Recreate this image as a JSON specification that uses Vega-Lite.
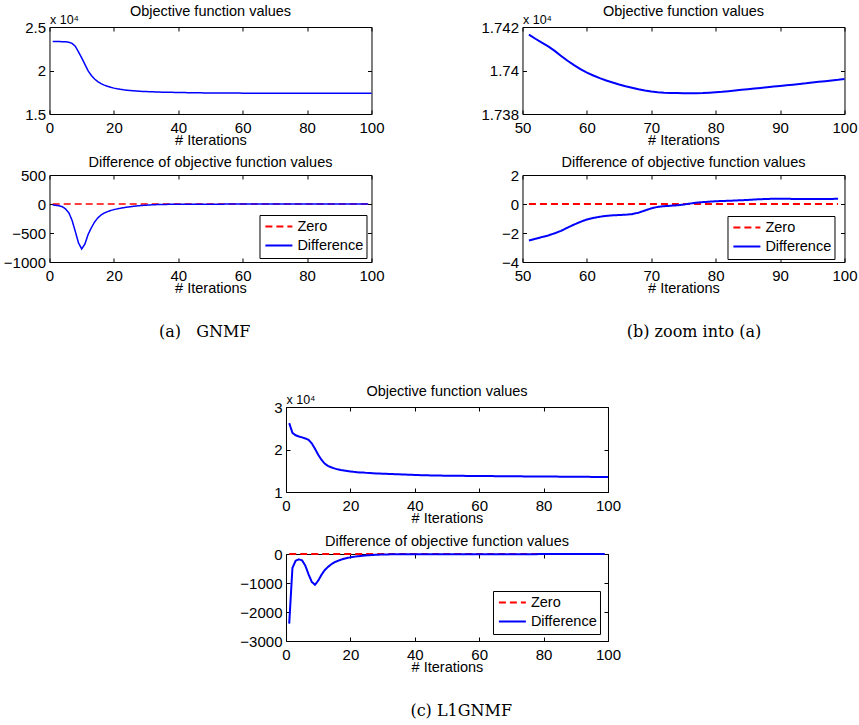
{
"$schema": "https://vega.github.io/schema/vega-lite/v6.json",
"background": "white",
"padding": {"left": 2, "top": 3, "right": 2, "bottom": 2},
"datasets": {
"aObj": [{"it":1,"v":23340},{"it":2,"v":23335},{"it":3,"v":23328},{"it":4,"v":23318},{"it":5,"v":23295},{"it":6,"v":23250},{"it":7,"v":23120},{"it":8,"v":22800},{"it":9,"v":22150},{"it":10,"v":21450},{"it":11,"v":20700},{"it":12,"v":19950},{"it":13,"v":19420},{"it":14,"v":19020},{"it":15,"v":18720},{"it":16,"v":18500},{"it":17,"v":18320},{"it":18,"v":18190},{"it":19,"v":18070},{"it":20,"v":17975},{"it":21,"v":17900},{"it":22,"v":17835},{"it":23,"v":17780},{"it":24,"v":17735},{"it":25,"v":17697},{"it":26,"v":17665},{"it":27,"v":17637},{"it":28,"v":17613},{"it":29,"v":17592},{"it":30,"v":17574},{"it":31,"v":17560},{"it":32,"v":17547},{"it":33,"v":17535},{"it":34,"v":17524},{"it":35,"v":17513},{"it":36,"v":17503},{"it":37,"v":17494},{"it":38,"v":17486},{"it":39,"v":17478},{"it":40,"v":17471},{"it":41,"v":17465},{"it":42,"v":17459},{"it":43,"v":17453},{"it":44,"v":17448},{"it":45,"v":17443},{"it":46,"v":17438},{"it":47,"v":17433},{"it":48,"v":17428},{"it":49,"v":17424},{"it":50,"v":17420},{"it":51,"v":17416.5},{"it":52,"v":17414.6},{"it":53,"v":17412.8},{"it":54,"v":17411.1},{"it":55,"v":17409.0},{"it":56,"v":17406.7},{"it":57,"v":17404.5},{"it":58,"v":17402.5},{"it":59,"v":17400.6},{"it":60,"v":17399.0},{"it":61,"v":17397.7},{"it":62,"v":17396.5},{"it":63,"v":17395.4},{"it":64,"v":17394.5},{"it":65,"v":17393.6},{"it":66,"v":17392.8},{"it":67,"v":17392.1},{"it":68,"v":17391.4},{"it":69,"v":17390.8},{"it":70,"v":17390.3},{"it":71,"v":17390.0},{"it":72,"v":17389.8},{"it":73,"v":17389.7},{"it":74,"v":17389.6},{"it":75,"v":17389.5},{"it":76,"v":17389.5},{"it":77,"v":17389.5},{"it":78,"v":17389.6},{"it":79,"v":17389.8},{"it":80,"v":17390.0},{"it":81,"v":17390.2},{"it":82,"v":17390.5},{"it":83,"v":17390.8},{"it":84,"v":17391.1},{"it":85,"v":17391.4},{"it":86,"v":17391.7},{"it":87,"v":17392.0},{"it":88,"v":17392.3},{"it":89,"v":17392.6},{"it":90,"v":17392.9},{"it":91,"v":17393.2},{"it":92,"v":17393.5},{"it":93,"v":17393.8},{"it":94,"v":17394.1},{"it":95,"v":17394.5},{"it":96,"v":17394.8},{"it":97,"v":17395.1},{"it":98,"v":17395.4},{"it":99,"v":17395.7},{"it":100,"v":17396.1}],
"aDiff": [{"it":1,"s":"Zero","v":0},{"it":51,"s":"Zero","v":0},{"it":99,"s":"Zero","v":0},
{"it":1,"s":"Difference","v":-17},{"it":2,"s":"Difference","v":-22},{"it":3,"s":"Difference","v":-32},{"it":4,"s":"Difference","v":-48},{"it":5,"s":"Difference","v":-85},{"it":6,"s":"Difference","v":-150},{"it":7,"s":"Difference","v":-280},{"it":8,"s":"Difference","v":-470},{"it":9,"s":"Difference","v":-670},{"it":10,"s":"Difference","v":-775},{"it":11,"s":"Difference","v":-690},{"it":12,"s":"Difference","v":-524},{"it":13,"s":"Difference","v":-410},{"it":14,"s":"Difference","v":-310},{"it":15,"s":"Difference","v":-240},{"it":16,"s":"Difference","v":-190},{"it":17,"s":"Difference","v":-155},{"it":18,"s":"Difference","v":-132},{"it":19,"s":"Difference","v":-112},{"it":20,"s":"Difference","v":-97},{"it":21,"s":"Difference","v":-84},{"it":22,"s":"Difference","v":-74},{"it":23,"s":"Difference","v":-64},{"it":24,"s":"Difference","v":-55},{"it":25,"s":"Difference","v":-47},{"it":26,"s":"Difference","v":-40},{"it":27,"s":"Difference","v":-34},{"it":28,"s":"Difference","v":-29},{"it":29,"s":"Difference","v":-24},{"it":30,"s":"Difference","v":-20},{"it":31,"s":"Difference","v":-17},{"it":32,"s":"Difference","v":-14},{"it":33,"s":"Difference","v":-11},{"it":34,"s":"Difference","v":-9},{"it":35,"s":"Difference","v":-8},{"it":36,"s":"Difference","v":-7},{"it":37,"s":"Difference","v":-6},{"it":38,"s":"Difference","v":-5},{"it":39,"s":"Difference","v":-4.5},{"it":40,"s":"Difference","v":-4},{"it":41,"s":"Difference","v":-3.6},{"it":42,"s":"Difference","v":-3.3},{"it":43,"s":"Difference","v":-3.1},{"it":44,"s":"Difference","v":-2.9},{"it":45,"s":"Difference","v":-2.8},{"it":46,"s":"Difference","v":-2.7},{"it":47,"s":"Difference","v":-2.65},{"it":48,"s":"Difference","v":-2.6},{"it":49,"s":"Difference","v":-2.58},{"it":50,"s":"Difference","v":-2.55},{"it":51,"s":"Difference","v":-2.52},{"it":52,"s":"Difference","v":-2.4},{"it":53,"s":"Difference","v":-2.28},{"it":54,"s":"Difference","v":-2.17},{"it":55,"s":"Difference","v":-2.02},{"it":56,"s":"Difference","v":-1.85},{"it":57,"s":"Difference","v":-1.63},{"it":58,"s":"Difference","v":-1.42},{"it":59,"s":"Difference","v":-1.23},{"it":60,"s":"Difference","v":-1.07},{"it":61,"s":"Difference","v":-0.96},{"it":62,"s":"Difference","v":-0.88},{"it":63,"s":"Difference","v":-0.82},{"it":64,"s":"Difference","v":-0.78},{"it":65,"s":"Difference","v":-0.76},{"it":66,"s":"Difference","v":-0.74},{"it":67,"s":"Difference","v":-0.7},{"it":68,"s":"Difference","v":-0.6},{"it":69,"s":"Difference","v":-0.45},{"it":70,"s":"Difference","v":-0.3},{"it":71,"s":"Difference","v":-0.2},{"it":72,"s":"Difference","v":-0.15},{"it":73,"s":"Difference","v":-0.12},{"it":74,"s":"Difference","v":-0.09},{"it":75,"s":"Difference","v":-0.04},{"it":76,"s":"Difference","v":0.03},{"it":77,"s":"Difference","v":0.09},{"it":78,"s":"Difference","v":0.13},{"it":79,"s":"Difference","v":0.16},{"it":80,"s":"Difference","v":0.19},{"it":81,"s":"Difference","v":0.21},{"it":82,"s":"Difference","v":0.22},{"it":83,"s":"Difference","v":0.24},{"it":84,"s":"Difference","v":0.26},{"it":85,"s":"Difference","v":0.28},{"it":86,"s":"Difference","v":0.31},{"it":87,"s":"Difference","v":0.33},{"it":88,"s":"Difference","v":0.35},{"it":89,"s":"Difference","v":0.36},{"it":90,"s":"Difference","v":0.36},{"it":91,"s":"Difference","v":0.36},{"it":92,"s":"Difference","v":0.35},{"it":93,"s":"Difference","v":0.34},{"it":94,"s":"Difference","v":0.34},{"it":95,"s":"Difference","v":0.34},{"it":96,"s":"Difference","v":0.34},{"it":97,"s":"Difference","v":0.35},{"it":98,"s":"Difference","v":0.35},{"it":99,"s":"Difference","v":0.36}],
"cObj": [{"it":1,"v":26200},{"it":2,"v":23900},{"it":3,"v":23350},{"it":4,"v":23050},{"it":5,"v":22850},{"it":6,"v":22600},{"it":7,"v":22250},{"it":8,"v":21450},{"it":9,"v":20150},{"it":10,"v":18750},{"it":11,"v":17600},{"it":12,"v":16700},{"it":13,"v":16150},{"it":14,"v":15830},{"it":15,"v":15550},{"it":16,"v":15330},{"it":17,"v":15160},{"it":18,"v":15040},{"it":19,"v":14930},{"it":20,"v":14830},{"it":21,"v":14740},{"it":22,"v":14670},{"it":23,"v":14610},{"it":24,"v":14560},{"it":25,"v":14500},{"it":26,"v":14455},{"it":27,"v":14410},{"it":28,"v":14370},{"it":29,"v":14335},{"it":30,"v":14300},{"it":31,"v":14270},{"it":32,"v":14240},{"it":33,"v":14210},{"it":34,"v":14180},{"it":35,"v":14150},{"it":36,"v":14120},{"it":37,"v":14090},{"it":38,"v":14060},{"it":39,"v":14030},{"it":40,"v":14000},{"it":41,"v":13978},{"it":42,"v":13957},{"it":43,"v":13937},{"it":44,"v":13918},{"it":45,"v":13900},{"it":46,"v":13886},{"it":47,"v":13873},{"it":48,"v":13861},{"it":49,"v":13850},{"it":50,"v":13840},{"it":51,"v":13831},{"it":52,"v":13822},{"it":53,"v":13814},{"it":54,"v":13806},{"it":55,"v":13798},{"it":56,"v":13790},{"it":57,"v":13782},{"it":58,"v":13775},{"it":59,"v":13767},{"it":60,"v":13760},{"it":61,"v":13754},{"it":62,"v":13748},{"it":63,"v":13742},{"it":64,"v":13736},{"it":65,"v":13730},{"it":66,"v":13724},{"it":67,"v":13718},{"it":68,"v":13712},{"it":69,"v":13706},{"it":70,"v":13700},{"it":71,"v":13694},{"it":72,"v":13688},{"it":73,"v":13682},{"it":74,"v":13676},{"it":75,"v":13670},{"it":76,"v":13664},{"it":77,"v":13658},{"it":78,"v":13652},{"it":79,"v":13646},{"it":80,"v":13640},{"it":81,"v":13634},{"it":82,"v":13629},{"it":83,"v":13623},{"it":84,"v":13618},{"it":85,"v":13612},{"it":86,"v":13607},{"it":87,"v":13601},{"it":88,"v":13596},{"it":89,"v":13590},{"it":90,"v":13585},{"it":91,"v":13579},{"it":92,"v":13574},{"it":93,"v":13568},{"it":94,"v":13563},{"it":95,"v":13557},{"it":96,"v":13552},{"it":97,"v":13546},{"it":98,"v":13541},{"it":99,"v":13535},{"it":100,"v":13530}],
"cDiff": [{"it":1,"s":"Zero","v":0},{"it":99,"s":"Zero","v":0},
{"it":1,"s":"Difference","v":-2400},{"it":2,"s":"Difference","v":-480},{"it":3,"s":"Difference","v":-230},{"it":4,"s":"Difference","v":-185},{"it":5,"s":"Difference","v":-220},{"it":6,"s":"Difference","v":-400},{"it":7,"s":"Difference","v":-700},{"it":8,"s":"Difference","v":-960},{"it":9,"s":"Difference","v":-1060},{"it":10,"s":"Difference","v":-920},{"it":11,"s":"Difference","v":-720},{"it":12,"s":"Difference","v":-560},{"it":13,"s":"Difference","v":-450},{"it":14,"s":"Difference","v":-360},{"it":15,"s":"Difference","v":-290},{"it":16,"s":"Difference","v":-240},{"it":17,"s":"Difference","v":-200},{"it":18,"s":"Difference","v":-165},{"it":19,"s":"Difference","v":-138},{"it":20,"s":"Difference","v":-115},{"it":21,"s":"Difference","v":-97},{"it":22,"s":"Difference","v":-82},{"it":23,"s":"Difference","v":-69},{"it":24,"s":"Difference","v":-58},{"it":25,"s":"Difference","v":-48},{"it":26,"s":"Difference","v":-40},{"it":27,"s":"Difference","v":-33},{"it":28,"s":"Difference","v":-27},{"it":29,"s":"Difference","v":-22},{"it":30,"s":"Difference","v":-18},{"it":31,"s":"Difference","v":-15},{"it":32,"s":"Difference","v":-13},{"it":33,"s":"Difference","v":-11},{"it":34,"s":"Difference","v":-10},{"it":35,"s":"Difference","v":-9},{"it":36,"s":"Difference","v":-8},{"it":37,"s":"Difference","v":-7.5},{"it":38,"s":"Difference","v":-7},{"it":39,"s":"Difference","v":-6.6},{"it":40,"s":"Difference","v":-6.3},{"it":41,"s":"Difference","v":-6.1},{"it":42,"s":"Difference","v":-5.9},{"it":43,"s":"Difference","v":-5.8},{"it":44,"s":"Difference","v":-5.7},{"it":45,"s":"Difference","v":-5.6},{"it":46,"s":"Difference","v":-5.5},{"it":47,"s":"Difference","v":-5.4},{"it":48,"s":"Difference","v":-5.4},{"it":49,"s":"Difference","v":-5.3},{"it":50,"s":"Difference","v":-5.3},{"it":51,"s":"Difference","v":-5.2},{"it":52,"s":"Difference","v":-5.2},{"it":53,"s":"Difference","v":-5.1},{"it":54,"s":"Difference","v":-5.1},{"it":55,"s":"Difference","v":-5.0},{"it":56,"s":"Difference","v":-5.0},{"it":57,"s":"Difference","v":-5.0},{"it":58,"s":"Difference","v":-4.9},{"it":59,"s":"Difference","v":-4.9},{"it":60,"s":"Difference","v":-4.9},{"it":61,"s":"Difference","v":-4.8},{"it":62,"s":"Difference","v":-4.8},{"it":63,"s":"Difference","v":-4.8},{"it":64,"s":"Difference","v":-4.7},{"it":65,"s":"Difference","v":-4.7},{"it":66,"s":"Difference","v":-4.7},{"it":67,"s":"Difference","v":-4.6},{"it":68,"s":"Difference","v":-4.6},{"it":69,"s":"Difference","v":-4.6},{"it":70,"s":"Difference","v":-4.5},{"it":71,"s":"Difference","v":-4.5},{"it":72,"s":"Difference","v":-4.5},{"it":73,"s":"Difference","v":-4.4},{"it":74,"s":"Difference","v":-4.4},{"it":75,"s":"Difference","v":-4.4},{"it":76,"s":"Difference","v":-4.3},{"it":77,"s":"Difference","v":-4.3},{"it":78,"s":"Difference","v":-4.3},{"it":79,"s":"Difference","v":-4.2},{"it":80,"s":"Difference","v":-4.2},{"it":81,"s":"Difference","v":-4.2},{"it":82,"s":"Difference","v":-4.1},{"it":83,"s":"Difference","v":-4.1},{"it":84,"s":"Difference","v":-4.1},{"it":85,"s":"Difference","v":-4.0},{"it":86,"s":"Difference","v":-4.0},{"it":87,"s":"Difference","v":-4.0},{"it":88,"s":"Difference","v":-3.9},{"it":89,"s":"Difference","v":-3.9},{"it":90,"s":"Difference","v":-3.9},{"it":91,"s":"Difference","v":-3.8},{"it":92,"s":"Difference","v":-3.8},{"it":93,"s":"Difference","v":-3.8},{"it":94,"s":"Difference","v":-3.7},{"it":95,"s":"Difference","v":-3.7},{"it":96,"s":"Difference","v":-3.7},{"it":97,"s":"Difference","v":-3.6},{"it":98,"s":"Difference","v":-3.6},{"it":99,"s":"Difference","v":-3.6}]
},
"vconcat": [
{
"hconcat": [
{
"vconcat": [
{
"width": 322, "height": 87,
"title": {"text": "Objective function values", "frame": "group", "offset": -6},
"data": {"name": "aObj"},
"layer": [
{"mark": {"type": "line", "color": "#0000ff", "strokeWidth": 1.5},
"encoding": {
"x": {"field": "it", "type": "quantitative", "scale": {"domain": [0, 100], "nice": false, "zero": false}, "axis": {"values": [0,20,40,60,80,100], "format": "d", "labelFlush": false, "title": "# Iterations"}},
"y": {"field": "v", "type": "quantitative", "scale": {"domain": [15000, 25000], "nice": false, "zero": false}, "axis": {"values": [15000,20000,25000], "labelExpr": "format(datum.value/10000, '~g')", "title": "x 10⁴", "titleAngle": 0, "titleX": 0, "titleY": -4, "titleAlign": "left", "titleBaseline": "alphabetic", "titleFontSize": 12.5}}
}},
{"mark": {"type": "line", "opacity": 0},
"encoding": {
"x": {"field": "it", "type": "quantitative", "axis": {"orient": "top", "values": [0,20,40,60,80,100], "labels": false, "title": null}},
"y": {"field": "v", "type": "quantitative", "axis": {"orient": "right", "values": [15000,20000,25000], "labels": false, "title": null}}
}}
],
"resolve": {"axis": {"x": "independent", "y": "independent"}}
},
{
"width": 322, "height": 87,
"title": {"text": "Difference of objective function values", "frame": "group", "offset": -2},
"data": {"name": "aDiff"},
"layer": [
{"mark": {"type": "line", "strokeWidth": 1.5},
"encoding": {
"x": {"field": "it", "type": "quantitative", "scale": {"domain": [0, 100], "nice": false, "zero": false}, "axis": {"values": [0,20,40,60,80,100], "format": "d", "labelFlush": false, "title": "# Iterations"}},
"y": {"field": "v", "type": "quantitative", "scale": {"domain": [-1000, 500], "nice": false, "zero": false}, "axis": {"values": [-1000,-500,0,500], "format": "d", "title": null}},
"color": {"field": "s", "type": "nominal", "scale": {"domain": ["Zero","Difference"], "range": ["#ff0000","#0000ff"]}, "legend": {"orient": "none", "legendX": 210, "legendY": 40, "title": null}},
"strokeDash": {"field": "s", "type": "nominal", "scale": {"domain": ["Zero","Difference"], "range": [[7,4],[1,0]]}, "legend": {"orient": "none", "legendX": 210, "legendY": 40, "title": null}}
}},
{"mark": {"type": "line", "opacity": 0},
"encoding": {
"x": {"field": "it", "type": "quantitative", "axis": {"orient": "top", "values": [0,20,40,60,80,100], "labels": false, "title": null}},
"y": {"field": "v", "type": "quantitative", "axis": {"orient": "right", "values": [-1000,-500,0,500], "labels": false, "title": null}}
}}
],
"resolve": {"axis": {"x": "independent", "y": "independent"}}
}
],
"spacing": 61,
"bounds": "flush",
"title": {"text": "(a)\u00a0\u00a0\u00a0GNMF", "orient": "bottom", "anchor": "middle", "font": "DejaVu Serif", "fontSize": 16, "offset": 29, "dx": 11},
"resolve": {"scale": {"color": "independent", "strokeDash": "independent"}, "legend": {"color": "independent", "strokeDash": "independent"}}
},
{
"vconcat": [
{
"width": 322, "height": 87,
"title": {"text": "Objective function values", "frame": "group", "offset": -6},
"data": {"name": "aObj"},
"transform": [{"filter": "datum.it >= 51"}],
"layer": [
{"mark": {"type": "line", "color": "#0000ff", "strokeWidth": 2},
"encoding": {
"x": {"field": "it", "type": "quantitative", "scale": {"domain": [50, 100], "nice": false, "zero": false}, "axis": {"values": [50,60,70,80,90,100], "format": "d", "labelFlush": false, "title": "# Iterations"}},
"y": {"field": "v", "type": "quantitative", "scale": {"domain": [17380, 17420], "nice": false, "zero": false}, "axis": {"values": [17380,17400,17420], "labelExpr": "format(datum.value/10000, '~g')", "title": "x 10⁴", "titleAngle": 0, "titleX": 0, "titleY": -4, "titleAlign": "left", "titleBaseline": "alphabetic", "titleFontSize": 12.5}}
}},
{"mark": {"type": "line", "opacity": 0},
"encoding": {
"x": {"field": "it", "type": "quantitative", "axis": {"orient": "top", "values": [50,60,70,80,90,100], "labels": false, "title": null}},
"y": {"field": "v", "type": "quantitative", "axis": {"orient": "right", "values": [17380,17400,17420], "labels": false, "title": null}}
}}
],
"resolve": {"axis": {"x": "independent", "y": "independent"}}
},
{
"width": 322, "height": 87,
"title": {"text": "Difference of objective function values", "frame": "group", "offset": -2},
"data": {"name": "aDiff"},
"transform": [{"filter": "datum.it >= 51"}],
"layer": [
{"mark": {"type": "line", "strokeWidth": 2},
"encoding": {
"x": {"field": "it", "type": "quantitative", "scale": {"domain": [50, 100], "nice": false, "zero": false}, "axis": {"values": [50,60,70,80,90,100], "format": "d", "labelFlush": false, "title": "# Iterations"}},
"y": {"field": "v", "type": "quantitative", "scale": {"domain": [-4, 2], "nice": false, "zero": false}, "axis": {"values": [-4,-2,0,2], "format": "d", "title": null}},
"color": {"field": "s", "type": "nominal", "scale": {"domain": ["Zero","Difference"], "range": ["#ff0000","#0000ff"]}, "legend": {"orient": "none", "legendX": 205, "legendY": 41, "title": null}},
"strokeDash": {"field": "s", "type": "nominal", "scale": {"domain": ["Zero","Difference"], "range": [[7,4],[1,0]]}, "legend": {"orient": "none", "legendX": 205, "legendY": 41, "title": null}}
}},
{"mark": {"type": "line", "opacity": 0},
"encoding": {
"x": {"field": "it", "type": "quantitative", "axis": {"orient": "top", "values": [50,60,70,80,90,100], "labels": false, "title": null}},
"y": {"field": "v", "type": "quantitative", "axis": {"orient": "right", "values": [-4,-2,0,2], "labels": false, "title": null}}
}}
],
"resolve": {"axis": {"x": "independent", "y": "independent"}}
}
],
"spacing": 61,
"bounds": "flush",
"title": {"text": "(b) zoom into (a)", "orient": "bottom", "anchor": "middle", "font": "DejaVu Serif", "fontSize": 16, "offset": 29, "dx": 25},
"resolve": {"scale": {"color": "independent", "strokeDash": "independent"}, "legend": {"color": "independent", "strokeDash": "independent"}}
}
],
"spacing": 94,
"resolve": {"scale": {"color": "independent", "strokeDash": "independent"}, "legend": {"color": "independent", "strokeDash": "independent"}}
},
{
"vconcat": [
{
"width": 322, "height": 85,
"title": {"text": "Objective function values", "frame": "group", "offset": -6},
"data": {"name": "cObj"},
"layer": [
{"mark": {"type": "line", "color": "#0000ff", "strokeWidth": 2},
"encoding": {
"x": {"field": "it", "type": "quantitative", "scale": {"domain": [0, 100], "nice": false, "zero": false}, "axis": {"values": [0,20,40,60,80,100], "format": "d", "labelFlush": false, "title": "# Iterations"}},
"y": {"field": "v", "type": "quantitative", "scale": {"domain": [10000, 30000], "nice": false, "zero": false}, "axis": {"values": [10000,20000,30000], "labelExpr": "format(datum.value/10000, '~g')", "title": "x 10⁴", "titleAngle": 0, "titleX": 0, "titleY": -4, "titleAlign": "left", "titleBaseline": "alphabetic", "titleFontSize": 12.5}}
}},
{"mark": {"type": "line", "opacity": 0},
"encoding": {
"x": {"field": "it", "type": "quantitative", "axis": {"orient": "top", "values": [0,20,40,60,80,100], "labels": false, "title": null}},
"y": {"field": "v", "type": "quantitative", "axis": {"orient": "right", "values": [10000,20000,30000], "labels": false, "title": null}}
}}
],
"resolve": {"axis": {"x": "independent", "y": "independent"}}
},
{
"width": 322, "height": 87,
"title": {"text": "Difference of objective function values", "frame": "group", "offset": -2},
"data": {"name": "cDiff"},
"layer": [
{"mark": {"type": "line", "strokeWidth": 2},
"encoding": {
"x": {"field": "it", "type": "quantitative", "scale": {"domain": [0, 100], "nice": false, "zero": false}, "axis": {"values": [0,20,40,60,80,100], "format": "d", "labelFlush": false, "title": "# Iterations"}},
"y": {"field": "v", "type": "quantitative", "scale": {"domain": [-3000, 0], "nice": false, "zero": false}, "axis": {"values": [-3000,-2000,-1000,0], "format": "d", "title": null}},
"color": {"field": "s", "type": "nominal", "scale": {"domain": ["Zero","Difference"], "range": ["#ff0000","#0000ff"]}, "legend": {"orient": "none", "legendX": 207, "legendY": 37, "title": null}},
"strokeDash": {"field": "s", "type": "nominal", "scale": {"domain": ["Zero","Difference"], "range": [[7,4],[1,0]]}, "legend": {"orient": "none", "legendX": 207, "legendY": 37, "title": null}}
}},
{"mark": {"type": "line", "opacity": 0},
"encoding": {
"x": {"field": "it", "type": "quantitative", "axis": {"orient": "top", "values": [0,20,40,60,80,100], "labels": false, "title": null}},
"y": {"field": "v", "type": "quantitative", "axis": {"orient": "right", "values": [-3000,-2000,-1000,0], "labels": false, "title": null}}
}}
],
"resolve": {"axis": {"x": "independent", "y": "independent"}}
}
],
"spacing": 62,
"bounds": "flush",
"title": {"text": "(c) L1GNMF", "orient": "bottom", "anchor": "middle", "font": "DejaVu Serif", "fontSize": 16, "offset": 29, "dx": 31},
"resolve": {"scale": {"color": "independent", "strokeDash": "independent"}, "legend": {"color": "independent", "strokeDash": "independent"}}
}
],
"spacing": 43,
"center": true,
"resolve": {"scale": {"color": "independent", "strokeDash": "independent"}, "legend": {"color": "independent", "strokeDash": "independent"}},
"config": {
"font": "Liberation Sans",
"view": {"stroke": "#000000", "strokeWidth": 1},
"axis": {"grid": false, "domain": false, "tickColor": "#000000", "tickSize": -4, "tickWidth": 1, "labelFont": "Liberation Sans", "labelFontSize": 15, "labelColor": "#000000", "labelPadding": 8, "titleFont": "Liberation Sans", "titleFontSize": 14.5, "titleFontWeight": "normal", "titleColor": "#000000", "titlePadding": -2},
"axisBottom": {"labelPadding": 10},
"title": {"font": "Liberation Sans", "fontSize": 14.5, "fontWeight": "normal", "color": "#000000"},
"legend": {"strokeColor": "#000000", "fillColor": "#ffffff", "padding": 2.4, "cornerRadius": 0, "symbolType": "stroke", "symbolSize": 729, "symbolStrokeWidth": 2, "symbolOffset": 2.5, "labelFont": "Liberation Sans", "labelFontSize": 14.5, "labelColor": "#000000", "labelOffset": 4, "rowPadding": 0, "clipHeight": 18.3}
}
}
